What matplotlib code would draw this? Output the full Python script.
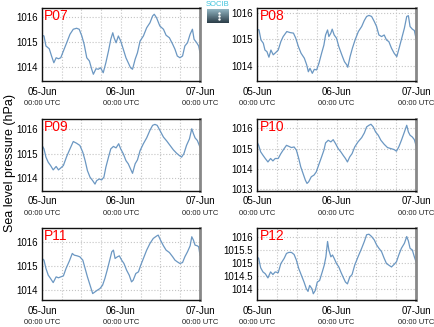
import numpy as np
import matplotlib
matplotlib.use('Agg')
import matplotlib.pyplot as plt
from matplotlib.ticker import MultipleLocator, FormatStrFormatter

plt.rcParams['font.family'] = ['Liberation Sans', 'DejaVu Sans']

# hours since 05-Jun 00:00 UTC and sea level pressure (hPa) per station
p07_h = [0.0, 0.6, 1.2, 2.2, 2.9, 3.6, 4.3, 5.0, 5.7, 6.5, 7.5, 8.5, 9.5, 10.5, 11.3, 12.1, 12.8, 13.6,
         14.4, 15.1, 15.6, 16.4, 17.1, 17.8, 18.6, 19.4, 20.2, 20.9, 21.5, 21.9, 22.5, 23.2, 23.9,
         24.7, 25.5, 26.2, 26.9, 27.5, 28.3, 29.0, 29.8, 30.8, 31.8, 32.8, 33.6, 34.1, 34.8, 35.8,
         36.9, 37.7, 38.7, 39.7, 40.4, 41.1, 41.9, 42.7, 43.4, 44.2, 45.0, 45.7, 46.2, 47.0, 47.6, 48.0]
p07_p = [1015.27, 1015.24, 1014.84, 1014.73, 1014.44, 1014.17, 1014.37, 1014.33, 1014.37, 1014.64,
         1014.97, 1015.31, 1015.51, 1015.55, 1015.51, 1015.24, 1014.91, 1014.37, 1014.24, 1013.91,
         1013.71, 1013.93, 1013.91, 1013.97, 1013.77, 1014.17, 1014.64, 1015.11, 1015.37, 1015.17,
         1014.97, 1015.24, 1015.04, 1014.71, 1014.37, 1014.17, 1013.97, 1013.91, 1014.31, 1014.57,
         1015.04, 1015.24, 1015.57, 1015.77, 1016.04, 1016.11, 1015.97, 1015.64, 1015.51, 1015.27,
         1015.17, 1014.91, 1014.71, 1014.44, 1014.37, 1014.44, 1014.84, 1014.97, 1015.31, 1015.51,
         1015.11, 1014.97, 1014.84, 1014.57]

p08_h = [0.0, 0.6, 1.2, 1.9, 2.4, 3.0, 3.6, 4.2, 4.9, 5.6, 6.4, 7.2, 7.9, 9.0, 10.0, 11.0, 11.7, 12.5,
         13.3, 14.3, 15.0, 15.5, 16.0, 16.7, 17.3, 18.0, 18.7, 19.5, 20.2, 20.7, 21.3, 21.7, 22.3,
         22.7, 23.3, 24.0, 24.7, 25.6, 26.4, 27.1, 27.4, 28.1, 28.8, 29.6, 30.6, 31.6, 32.4, 33.1,
         33.8, 34.6, 35.4, 36.1, 36.8, 37.6, 38.4, 39.1, 39.8, 40.6, 41.4, 42.2, 42.9, 43.7, 44.5,
         45.2, 45.7, 46.2, 46.9, 47.5, 48.0]
p08_p = [1015.38, 1015.35, 1014.97, 1014.85, 1014.59, 1014.53, 1014.32, 1014.59, 1014.41, 1014.49,
         1014.59, 1014.91, 1015.10, 1015.29, 1015.25, 1015.23, 1015.04, 1014.72, 1014.47, 1014.28,
         1014.03, 1013.77, 1013.90, 1013.71, 1013.86, 1013.84, 1014.09, 1014.47, 1014.78, 1015.16,
         1015.35, 1015.10, 1015.23, 1015.38, 1015.16, 1015.04, 1014.72, 1014.41, 1014.15, 1014.03,
         1013.94, 1014.34, 1014.66, 1014.97, 1015.29, 1015.48, 1015.71, 1015.86, 1015.90, 1015.86,
         1015.67, 1015.48, 1015.16, 1015.10, 1015.16, 1014.97, 1014.91, 1014.66, 1014.47, 1014.34,
         1014.66, 1015.04, 1015.42, 1015.86, 1015.89, 1015.48, 1015.38, 1015.33, 1015.04]

p09_h = [0.0, 0.6, 1.2, 1.9, 2.6, 3.4, 4.3, 5.0, 5.7, 6.5, 7.5, 8.5, 9.5, 10.5, 11.5, 12.4, 13.1, 13.8,
         14.6, 15.4, 16.1, 16.6, 17.4, 18.1, 18.8, 19.4, 20.2, 20.9, 21.7, 22.5, 23.3, 23.9, 24.7,
         25.5, 26.2, 26.9, 27.5, 28.3, 29.0, 29.8, 30.8, 31.8, 32.8, 33.6, 34.3, 35.0, 35.8, 36.9,
         37.9, 38.9, 39.9, 40.9, 41.7, 42.4, 43.1, 43.9, 44.8, 45.5, 46.0, 46.5, 47.2, 48.0]
p09_p = [1015.33, 1015.19, 1014.85, 1014.64, 1014.51, 1014.33, 1014.47, 1014.33, 1014.41, 1014.51,
         1014.88, 1015.19, 1015.49, 1015.42, 1015.33, 1015.05, 1014.71, 1014.30, 1014.03, 1013.89,
         1013.75, 1013.89, 1013.96, 1013.92, 1014.03, 1014.44, 1014.85, 1015.19, 1015.29, 1015.23,
         1015.40, 1015.19, 1014.99, 1014.71, 1014.58, 1014.37, 1014.19, 1014.58, 1014.74, 1015.12,
         1015.40, 1015.64, 1015.95, 1016.15, 1016.19, 1016.15, 1015.95, 1015.67, 1015.51, 1015.33,
         1015.15, 1015.01, 1014.92, 1014.85, 1014.99, 1015.33, 1015.60, 1016.01, 1015.81, 1015.64,
         1015.53, 1015.26]

p10_h = [0.0, 0.5, 1.1, 1.8, 2.5, 3.3, 4.1, 4.8, 5.5, 6.4, 7.2, 8.2, 8.9, 9.6, 10.4, 11.2, 11.9, 12.6,
         13.2, 13.9, 14.6, 15.1, 15.6, 16.4, 17.2, 17.9, 18.6, 19.5, 20.2, 20.7, 21.5, 22.3, 23.0,
         23.7, 24.5, 25.3, 26.0, 26.7, 27.3, 28.0, 28.7, 29.5, 30.5, 31.6, 32.4, 33.1, 33.8, 34.4,
         35.1, 35.8, 36.6, 37.4, 38.4, 39.4, 40.4, 41.4, 42.1, 42.8, 43.6, 44.5, 45.2, 45.7, 46.2,
         46.9, 47.5, 48.0]
p10_p = [1015.33, 1015.16, 1014.84, 1014.67, 1014.51, 1014.34, 1014.51, 1014.39, 1014.51, 1014.51,
         1014.75, 1015.00, 1015.16, 1015.11, 1015.05, 1015.08, 1014.92, 1014.51, 1014.10, 1013.77,
         1013.44, 1013.28, 1013.36, 1013.61, 1013.69, 1013.85, 1014.18, 1014.59, 1014.92, 1015.28,
         1015.41, 1015.33, 1015.44, 1015.25, 1015.00, 1014.84, 1014.67, 1014.51, 1014.34, 1014.59,
         1014.75, 1015.08, 1015.33, 1015.54, 1015.77, 1016.07, 1016.15, 1016.20, 1016.07, 1015.82,
         1015.66, 1015.41, 1015.21, 1015.05, 1015.00, 1014.95, 1014.87, 1015.08, 1015.41, 1015.82,
         1016.15, 1015.82, 1015.66, 1015.57, 1015.44, 1015.16]

p11_h = [0.0, 0.6, 1.2, 1.9, 2.6, 3.4, 4.3, 5.0, 5.7, 6.5, 7.3, 8.3, 9.2, 9.8, 10.7, 11.5, 12.4, 13.1,
         13.8, 14.6, 15.4, 16.1, 16.8, 17.6, 18.4, 19.1, 19.8, 20.7, 21.2, 21.7, 22.2, 22.9, 23.5,
         24.2, 24.9, 25.7, 26.5, 27.2, 27.7, 28.5, 29.3, 30.0, 30.8, 31.8, 32.8, 33.8, 34.8, 35.3,
         36.0, 36.9, 37.7, 38.7, 39.7, 40.4, 41.1, 41.9, 42.7, 43.4, 44.2, 45.0, 45.5, 46.0, 46.5,
         47.2, 47.6, 48.0]
p11_p = [1015.32, 1015.25, 1014.90, 1014.62, 1014.48, 1014.31, 1014.55, 1014.51, 1014.55, 1014.59,
         1014.90, 1015.21, 1015.53, 1015.46, 1015.43, 1015.39, 1015.25, 1014.90, 1014.55, 1014.20,
         1013.85, 1013.92, 1013.99, 1014.06, 1014.20, 1014.48, 1014.83, 1015.32, 1015.60, 1015.67,
         1015.32, 1015.39, 1015.43, 1015.25, 1015.11, 1014.83, 1014.62, 1014.34, 1014.41, 1014.69,
         1014.76, 1015.04, 1015.32, 1015.67, 1015.95, 1016.16, 1016.26, 1016.30, 1016.09, 1015.85,
         1015.67, 1015.57, 1015.39, 1015.25, 1015.18, 1015.11, 1015.15, 1015.39, 1015.60, 1015.85,
         1016.23, 1016.09, 1015.88, 1015.85, 1015.81, 1015.46]

p12_h = [0.0, 0.5, 1.1, 1.8, 2.5, 3.3, 4.1, 4.8, 5.5, 6.4, 7.2, 8.2, 8.9, 9.6, 10.4, 11.2, 11.9, 12.6,
         13.4, 14.2, 14.9, 15.4, 15.9, 16.6, 17.0, 17.6, 18.2, 18.9, 19.7, 20.3, 20.8, 21.3, 21.7,
         22.3, 22.8, 23.3, 24.0, 24.7, 25.3, 26.0, 26.7, 27.3, 28.0, 28.7, 29.5, 30.5, 31.6, 32.4,
         33.1, 33.8, 34.6, 35.4, 36.1, 36.8, 37.6, 38.4, 39.1, 39.8, 40.6, 41.4, 42.1, 42.8, 43.6,
         44.5, 45.2, 45.7, 46.2, 46.9, 47.5, 48.0]
p12_p = [1015.23, 1015.17, 1014.81, 1014.65, 1014.58, 1014.42, 1014.65, 1014.55, 1014.65, 1014.62,
         1014.97, 1015.17, 1015.36, 1015.40, 1015.40, 1015.32, 1015.10, 1014.78, 1014.52, 1014.26,
         1014.00, 1013.90, 1014.13, 1014.00, 1013.81, 1013.94, 1014.26, 1014.32, 1014.65, 1014.91,
         1015.23, 1015.82, 1015.49, 1015.23, 1015.30, 1015.17, 1014.97, 1014.84, 1014.65, 1014.45,
         1014.26, 1014.19, 1014.45, 1014.55, 1014.91, 1015.23, 1015.56, 1015.82, 1016.08, 1016.10,
         1016.01, 1015.88, 1015.69, 1015.56, 1015.43, 1015.17, 1014.97, 1014.91, 1014.84, 1014.94,
         1015.04, 1015.30, 1015.56, 1015.75, 1016.01, 1015.84, 1015.56, 1015.49, 1015.23, 1015.04]

stations = ['P07', 'P08', 'P09', 'P10', 'P11', 'P12']
hours = [p07_h, p08_h, p09_h, p10_h, p11_h, p12_h]
pressures = [p07_p, p08_p, p09_p, p10_p, p11_p, p12_p]
ylims = [(1013.44, 1016.36), (1013.42, 1016.18), (1013.48, 1016.41),
         (1012.92, 1016.46), (1013.58, 1016.61), (1013.57, 1016.35)]
ysteps = [1, 1, 1, 1, 1, 0.5]

day_ticks = [0, 24, 48]
day_labels = ['05-Jun', '06-Jun', '07-Jun']

W, H = 435, 327
fig = plt.figure(figsize=(W / 100, H / 100), dpi=100)

# panel boxes in pixels: left, right, top, bottom
cols = [(42, 200), (257, 416)]
rows = [(8, 81), (119, 190.7), (227.7, 300)]

line_color = '#6b97c2'

for k, name in enumerate(stations):
    l, r = cols[k % 2]
    t, b = rows[k // 2]
    ax = fig.add_axes([l / W, 1 - b / H, (r - l) / W, (b - t) / H])
    ax.plot(hours[k], pressures[k], color=line_color, lw=0.9)
    ax.set_xlim(0, 48)
    ax.set_ylim(*ylims[k])
    ax.yaxis.set_major_locator(MultipleLocator(ysteps[k]))
    ax.yaxis.set_major_formatter(FormatStrFormatter('%g'))
    ax.set_xticks(day_ticks)
    ax.set_xticklabels(day_labels)
    ax.xaxis.set_minor_locator(MultipleLocator(6))
    ax.grid(True, which='both', axis='x', color='#c4c4c4', ls=':', lw=0.8)
    ax.grid(True, which='major', axis='y', color='#c4c4c4', ls=':', lw=0.8)
    ax.tick_params(axis='both', which='both', length=0, labelsize=7, pad=3)
    ax.tick_params(axis='x', pad=4)
    for s in ['left', 'top', 'bottom']:
        ax.spines[s].set_color('#111111')
        ax.spines[s].set_linewidth(1.0)
    ax.spines['right'].set_color('#888888')
    ax.spines['right'].set_linewidth(2.0)
    for x in day_ticks:
        ax.annotate('00:00 UTC', xy=(x, 0), xycoords=('data', 'axes fraction'),
                    xytext=(0, -14), textcoords='offset points',
                    ha='center', va='top', fontsize=5.5, color='#222222')
    ax.text(0.015, 0.98, name, transform=ax.transAxes, ha='left', va='top',
            fontsize=10, color='red')

fig.text(0.022, 0.5, 'Sea level pressure (hPa)', rotation=90, ha='center',
         va='center', fontsize=9)

# small logo block between the top panels
lax = fig.add_axes([207 / W, 1 - 23 / H, 21 / W, 14 / H])
grad = np.linspace(0, 1, 20)[:, None]
lax.imshow(grad, aspect='auto', cmap=matplotlib.colors.LinearSegmentedColormap.from_list(
    'logo', ['#8fb2bf', '#2d3f4a']), extent=(0, 1, 0, 1))
lax.plot([0.55, 0.55, 0.55], [0.3, 0.5, 0.7], ls='none', marker='s', ms=0.7, color='white')
lax.set_axis_off()
fig.text(217.5 / W, 1 - 5 / H, 'SOCIB', ha='center', va='center', fontsize=5.5,
         color='#3fc3dc')

fig.savefig('out.png', dpi=100)
